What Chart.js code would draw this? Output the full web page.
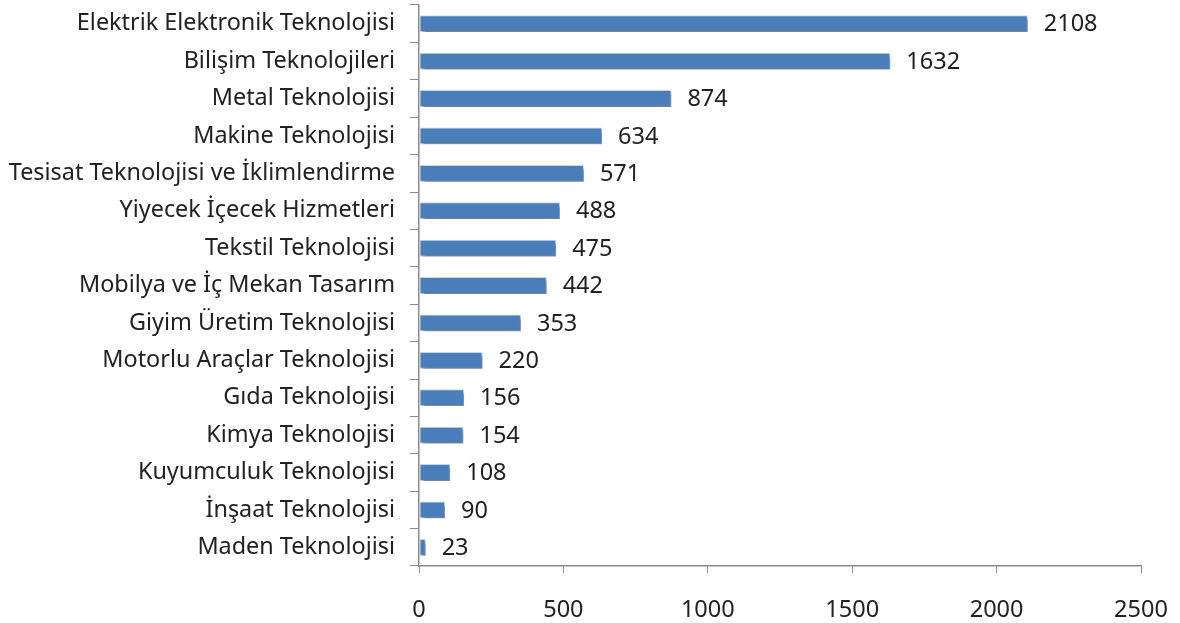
<!DOCTYPE html>
<html>
<head>
<meta charset="utf-8">
<script src="https://cdn.jsdelivr.net/npm/chart.js@4"></script>
<style>
  html, body { margin: 0; padding: 0; background: #fff; }
  #wrap { width: 1180px; height: 623px; }
</style>
</head>
<body>
<div id="wrap"><canvas id="chart" width="1180" height="623"></canvas></div>
<script>
const categories = [
  'Elektrik Elektronik Teknolojisi',
  'Bilişim Teknolojileri',
  'Metal Teknolojisi',
  'Makine Teknolojisi',
  'Tesisat Teknolojisi ve İklimlendirme',
  'Yiyecek İçecek Hizmetleri',
  'Tekstil Teknolojisi',
  'Mobilya ve İç Mekan Tasarım',
  'Giyim Üretim Teknolojisi',
  'Motorlu Araçlar Teknolojisi',
  'Gıda Teknolojisi',
  'Kimya Teknolojisi',
  'Kuyumculuk Teknolojisi',
  'İnşaat Teknolojisi',
  'Maden Teknolojisi'
];
const counts = [2108, 1632, 874, 634, 571, 488, 475, 442, 353, 220, 156, 154, 108, 90, 23];
const xTicks = [0, 500, 1000, 1500, 2000, 2500];

const FONT = '"Noto Sans", "Open Sans", sans-serif';
const TEXT = '#222222';
const AXIS = '#8a8a8a';

// soft drop shadow under the bars
const barShadow = {
  id: 'barShadow',
  beforeDatasetsDraw(chart) {
    const ctx = chart.ctx;
    ctx.save();
    ctx.shadowColor = 'rgba(0,0,0,0.45)';
    ctx.shadowBlur = 3;
    ctx.shadowOffsetX = 2;
    ctx.shadowOffsetY = 3;
  },
  afterDatasetsDraw(chart) {
    chart.ctx.restore();
  }
};

// value printed to the right of each bar
const valueLabels = {
  id: 'valueLabels',
  afterDatasetsDraw(chart) {
    const ctx = chart.ctx;
    const meta = chart.getDatasetMeta(0);
    ctx.save();
    ctx.font = '23.5px ' + FONT;
    ctx.fillStyle = TEXT;
    ctx.textAlign = 'left';
    ctx.textBaseline = 'middle';
    meta.data.forEach((bar, i) => {
      ctx.fillText(String(counts[i]), bar.x + 16, bar.y + 1);
    });
    ctx.restore();
  }
};

new Chart(document.getElementById('chart'), {
  type: 'bar',
  data: {
    labels: categories,
    datasets: [{
      data: counts,
      backgroundColor: '#4a7ebb',
      borderColor: '#c6d7ec',
      borderWidth: 1,
      borderSkipped: false,
      barPercentage: 0.45,
      categoryPercentage: 1
    }]
  },
  options: {
    indexAxis: 'y',
    responsive: false,
    animation: false,
    layout: { padding: { top: 5, right: 39, left: 0, bottom: 0 } },
    plugins: {
      legend: { display: false },
      tooltip: { enabled: false }
    },
    scales: {
      x: {
        min: 0,
        max: 2500,
        afterBuildTicks(scale) {
          scale.ticks = xTicks.map(v => ({ value: v }));
        },
        afterFit(scale) {
          scale.height = 57;
          scale.paddingLeft = 0;
          scale.paddingRight = 0;
        },
        grid: { drawOnChartArea: false, drawTicks: true, tickLength: 7, color: AXIS },
        border: { color: AXIS, width: 1.5 },
        ticks: {
          color: TEXT,
          font: { family: FONT, size: 23.5 },
          padding: 23,
          callback: v => String(v)
        }
      },
      y: {
        afterFit(scale) {
          scale.width = 419;
          scale.paddingTop = 0;
          scale.paddingBottom = 0;
        },
        grid: { drawOnChartArea: false, drawTicks: true, tickLength: 9, color: AXIS, offset: true },
        border: { color: AXIS, width: 1.5 },
        ticks: { color: TEXT, font: { family: FONT, size: 23.4 }, padding: 15, autoSkip: false }
      }
    }
  },
  plugins: [barShadow, valueLabels]
});
</script>
</body>
</html>
